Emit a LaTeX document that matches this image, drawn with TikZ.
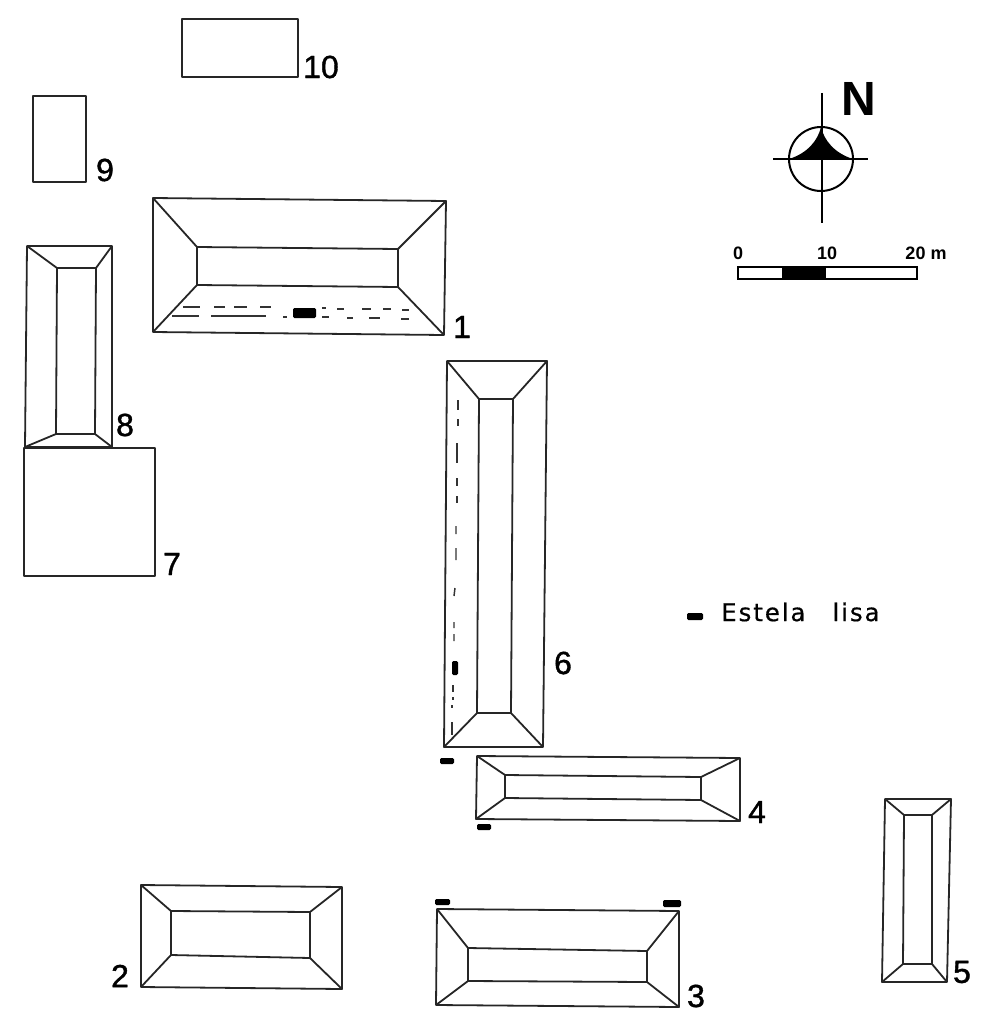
\documentclass[tikz,border=0pt]{standalone}
\usepackage{fontspec}
\setmainfont{Liberation Sans}
\newfontfamily\estelafont[LetterSpace=8,FakeBold=0.6]{DejaVu Sans}
\newfontfamily\numberfont[FakeBold=1.2]{Liberation Sans}
\tikzset{
  wall/.style={draw=black!85,line width=1.35pt,line join=round},
  trace/.style={draw=black!80,line width=1.1pt},
  stela/.style={fill=black,draw=none,rounded corners=1pt},
  number/.style={align=center,inner sep=0pt,font=\fontsize{24}{24}\selectfont\numberfont},
  scaletext/.style={align=center,inner sep=0pt,font=\fontsize{13.5}{13.5}\selectfont\bfseries}
}
\begin{document}
\begin{tikzpicture}[x=0.75pt,y=-0.75pt]
\useasboundingbox (0,0) rectangle (985,1024);

% plain rectangles
\path [wall] (182,19) rectangle (298,77);
\path [wall] (33,96) rectangle (86,182);
\path [wall] (24,448) rectangle (155,576);

% platform 1
\path [wall] (153,198) -- (446,201) -- (444,335) -- (153,332) -- cycle;
\path [wall] (197,247) -- (398,249) -- (398,287) -- (197,285) -- cycle;
\path [wall] (153,198) -- (197,247) (446,201) -- (398,249) (444,335) -- (398,287) (153,332) -- (197,285);
% platform 6
\path [wall] (447,361) -- (547,361) -- (543,747) -- (444,747) -- cycle;
\path [wall] (479,399) -- (513,399) -- (511,713) -- (477,713) -- cycle;
\path [wall] (447,361) -- (479,399) (547,361) -- (513,399) (543,747) -- (511,713) (444,747) -- (477,713);
% platform 8
\path [wall] (27,246) -- (112,246) -- (112,447) -- (25,447) -- cycle;
\path [wall] (57,268) -- (96,268) -- (95,434) -- (56,434) -- cycle;
\path [wall] (27,246) -- (57,268) (112,246) -- (96,268) (112,447) -- (95,434) (25,447) -- (56,434);
% platform 4
\path [wall] (477,756) -- (740,758) -- (740,821) -- (476,819) -- cycle;
\path [wall] (505,775) -- (701,777) -- (701,800) -- (505,798) -- cycle;
\path [wall] (477,756) -- (505,775) (740,758) -- (701,777) (740,821) -- (701,800) (476,819) -- (505,798);
% platform 5
\path [wall] (885,799) -- (951,799) -- (947,982) -- (882,982) -- cycle;
\path [wall] (904,815) -- (932,815) -- (932,964) -- (903,964) -- cycle;
\path [wall] (885,799) -- (904,815) (951,799) -- (932,815) (947,982) -- (932,964) (882,982) -- (903,964);
% platform 2
\path [wall] (141,885) -- (342,887) -- (342,989) -- (141,987) -- cycle;
\path [wall] (171,911) -- (310,912) -- (310,958) -- (171,955) -- cycle;
\path [wall] (141,885) -- (171,911) (342,887) -- (310,912) (342,989) -- (310,958) (141,987) -- (171,955);
% platform 3
\path [wall] (437,909) -- (679,911) -- (679,1007) -- (436,1005) -- cycle;
\path [wall] (468,948) -- (647,951) -- (647,982) -- (468,981) -- cycle;
\path [wall] (437,909) -- (468,948) (679,911) -- (647,951) (679,1007) -- (647,982) (436,1005) -- (468,981);

% broken traces on 1
\path [trace] (183,307) -- (200,307) (214,307) -- (225,307) (234,307) -- (247,307) (260,307) -- (271,307);
\path [trace] (172,316) -- (199,316) (211,316) -- (266,316) (283,317) -- (287,317);
\path [trace] (322,308) -- (326,308) (337,309) -- (344,309) (362,309) -- (371,309) (383,309) -- (391,309) (402,310) -- (409,310);
\path [trace] (322,317) -- (329,317) (347,318) -- (353,318) (369,318) -- (380,318) (401,319) -- (409,319);
% broken traces on 6
\path [trace] (458,400) -- (458,410) (458,419) -- (458,426) (457,443) -- (457,463) (457,478) -- (457,486) (457,496) -- (457,503);
\path [trace] (456,526) -- (456,534) (456,548) -- (456,560) (455,588) -- (454,596) (454,622) -- (454,628) (454,634) -- (454,641);
\path [trace] (453,685) -- (453,692) (453,697) -- (453,700) (452,705) -- (452,708) (452,722) -- (452,735);

% stelae
\path [stela] (293,308) rectangle (316,318);
\path [stela] (452,661) rectangle (458,675);
\path [stela] (440,758) rectangle (454,764);
\path [stela] (477,824) rectangle (491,830);
\path [stela] (435,899) rectangle (450,905);
\path [stela] (663,900) rectangle (681,907);
\path [stela] (687,613) rectangle (703,620);

% north sign
\path [draw=black,line width=1.5pt] (821,159) circle (32);
\path [fill=black] (821,127) .. controls (818,140) and (808,153) .. (789,159) -- (853,159) .. controls (834,153) and (824,140) .. (821,127) -- cycle;
\path [draw=black,line width=1.8pt] (822,93) -- (822,223);
\path [draw=black,line width=1.8pt] (773,159) -- (868,159);

% scale bar
\path [draw=black,line width=1pt] (738,267) rectangle (917,279);
\path [fill=black] (782,267) rectangle (826,279);

% labels
\node [scaletext] (zero) at (738,253) {0};
\node [scaletext] (ten) at (827,253) {10};
\node [scaletext] (twenty) at (926,253) {20 m};
\node [inner sep=0pt,font=\fontsize{36}{36}\selectfont\bfseries] (north) at (859,99) {N};
\node [inner sep=0pt,anchor=west,font=\fontsize{18.3}{18.3}\selectfont\estelafont] (estela) at (721,612) {Estela\hspace{13pt} lisa};
\node [number] (n1) at (462,327) {1};
\node [number] (n2) at (120,976) {2};
\node [number] (n3) at (696,996) {3};
\node [number] (n4) at (757,812) {4};
\node [number] (n5) at (962,972) {5};
\node [number] (n6) at (563,663) {6};
\node [number] (n7) at (172,564) {7};
\node [number] (n8) at (125,425) {8};
\node [number] (n9) at (105,170) {9};
\node [number] (n10) at (321,67) {10};
\end{tikzpicture}
\end{document}
